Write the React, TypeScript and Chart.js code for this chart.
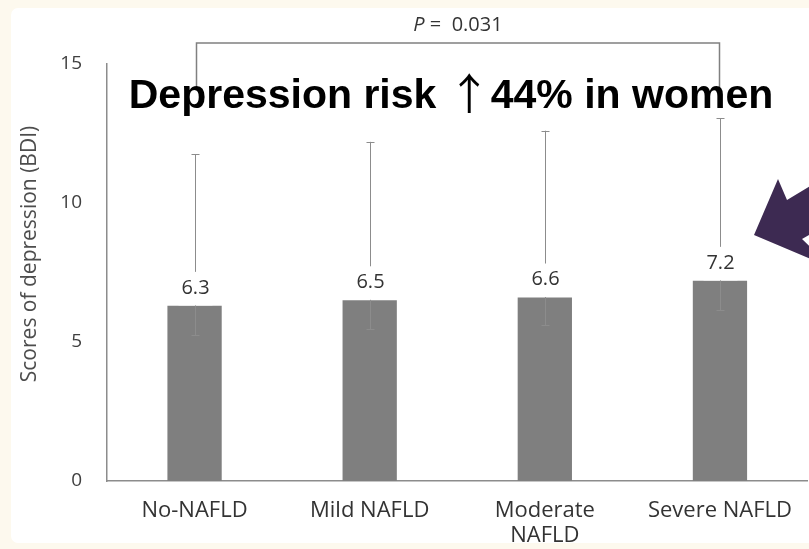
import React, { useEffect, useRef } from "react";
import { Chart, registerables } from "chart.js";

Chart.register(...registerables);

// ---- data ----
const categories: (string | string[])[] = ["No-NAFLD", "Mild NAFLD", ["Moderate", "NAFLD"], "Severe NAFLD"];
const meanScores = [6.3, 6.5, 6.6, 7.2];
const errorLower = [5.25, 5.45, 5.6, 6.15];
const errorUpper = [11.75, 12.2, 12.6, 13.05];
const yTicks = [0, 5, 10, 15];
const yTitle = "Scores of depression (BDI)";
const pLabel = "P";
const pValue = " =  0.031";
const headlineParts = ["Depression risk ", "↑", "44% in women"];

const FONT = '"Open Sans", "Noto Sans", sans-serif';
const BOLD = '"Liberation Sans", Arial, sans-serif';
const ARROW_FONT = '"Noto Sans CJK KR", "Noto Sans CJK SC", sans-serif';

const backgroundPlugin = {
  id: "panelBackground",
  beforeDraw(chart: any) {
    const { ctx, width, height } = chart;
    ctx.save();
    ctx.fillStyle = "#fdf9ee";
    ctx.fillRect(0, 0, width, height);
    ctx.fillStyle = "#ffffff";
    ctx.beginPath();
    (ctx as any).roundRect(11, 8, width + 20, height - 14, 7);
    ctx.fill();
    ctx.restore();
  },
};

const errorBarPlugin = {
  id: "errorBars",
  afterDatasetsDraw(chart: any) {
    const { ctx } = chart;
    const y = chart.scales.y;
    const meta = chart.getDatasetMeta(0);
    meta.data.forEach((bar: any, i: number) => {
      const cx = Math.round(bar.x) + 0.5;
      const top = y.getPixelForValue(meanScores[i]);
      const yl = y.getPixelForValue(errorLower[i]);
      const yu = y.getPixelForValue(errorUpper[i]);
      ctx.save();
      ctx.strokeStyle = "#8c8c8c";
      ctx.lineWidth = 1;
      ctx.beginPath();
      ctx.moveTo(cx, yu);
      ctx.lineTo(cx, yl);
      ctx.moveTo(cx - 4, Math.round(yu) + 0.5);
      ctx.lineTo(cx + 4, Math.round(yu) + 0.5);
      ctx.moveTo(cx - 4, Math.round(yl) + 0.5);
      ctx.lineTo(cx + 4, Math.round(yl) + 0.5);
      ctx.stroke();
      // label box
      ctx.fillStyle = "#ffffff";
      ctx.fillRect(cx - 17, top - 34, 34, 33.5);
      ctx.fillStyle = "#333333";
      ctx.font = `20px ${FONT}`;
      ctx.textAlign = "center";
      ctx.textBaseline = "middle";
      ctx.fillText(meanScores[i].toFixed(1), cx, top - 18);
      ctx.restore();
    });
  },
};

const annotationPlugin = {
  id: "annotations",
  afterDraw(chart: any) {
    const { ctx } = chart;
    const x = chart.scales.x;
    const x1 = Math.round(x.getPixelForValue(0)) + 1.5;
    const x2 = Math.round(x.getPixelForValue(categories.length - 1)) - 0.5;
    const lineY = 43;
    ctx.save();

    // y axis title
    ctx.save();
    ctx.translate(30, 254);
    ctx.rotate(-Math.PI / 2);
    ctx.fillStyle = "#4d4d4d";
    ctx.font = `21px ${FONT}`;
    ctx.textAlign = "center";
    ctx.textBaseline = "middle";
    ctx.fillText(yTitle, 0, 0);
    ctx.restore();

    // bracket
    ctx.strokeStyle = "#808080";
    ctx.lineWidth = 1.5;
    ctx.beginPath();
    ctx.moveTo(x1, 88);
    ctx.lineTo(x1, lineY);
    ctx.lineTo(x2, lineY);
    ctx.lineTo(x2, 88);
    ctx.stroke();

    // P value
    const mid = (x1 + x2) / 2;
    ctx.fillStyle = "#333333";
    ctx.textBaseline = "middle";
    ctx.textAlign = "left";
    ctx.font = `italic 20px ${FONT}`;
    const wP = ctx.measureText(pLabel).width;
    ctx.font = `20px ${FONT}`;
    const wV = ctx.measureText(pValue).width;
    const px = mid - (wP + wV) / 2;
    ctx.font = `italic 20px ${FONT}`;
    ctx.fillText(pLabel, px, 25);
    ctx.font = `20px ${FONT}`;
    ctx.fillText(pValue, px + wP, 25);

    // headline
    ctx.fillStyle = "#000000";
    ctx.textBaseline = "alphabetic";
    const boldFont = `bold 41px ${BOLD}`;
    const arrowFont = `43px ${ARROW_FONT}`;
    ctx.font = boldFont;
    const w1 = ctx.measureText(headlineParts[0]).width;
    const w3 = ctx.measureText(headlineParts[2]).width;
    ctx.font = arrowFont;
    const w2 = ctx.measureText(headlineParts[1]).width;
    const total = w1 + w2 + w3;
    const hx = 451 - total / 2;
    const base = 108;
    ctx.font = boldFont;
    ctx.fillText(headlineParts[0], hx, base);
    ctx.font = arrowFont;
    ctx.fillText(headlineParts[1], hx + w1, base + 2);
    ctx.font = boldFont;
    ctx.fillText(headlineParts[2], hx + w1 + w2, base);

    // purple pointer arrow
    ctx.fillStyle = "#3d2a52";
    ctx.beginPath();
    ctx.moveTo(754, 235);
    ctx.lineTo(778, 179);
    ctx.lineTo(787, 200);
    ctx.lineTo(860, 156);
    ctx.lineTo(880, 195);
    ctx.lineTo(802, 239);
    ctx.lineTo(832, 268);
    ctx.closePath();
    ctx.fill();
    ctx.restore();
  },
};

export default function App() {
  const ref = useRef<HTMLCanvasElement>(null);
  useEffect(() => {
    document.body.style.margin = "0";
    const canvas = ref.current!;
    const chart = new Chart(canvas, {
      type: "bar",
      data: {
        labels: categories as any,
        datasets: [
          {
            data: meanScores,
            backgroundColor: "#7f7f7f",
            borderWidth: 0,
            barPercentage: 0.31,
            categoryPercentage: 1,
          },
        ],
      },
      options: {
        responsive: false,
        animation: false,
        devicePixelRatio: 1,
        layout: { padding: { top: 64, left: 0, right: 0, bottom: 0 } },
        plugins: {
          legend: { display: false },
          tooltip: { enabled: false },
        },
        scales: {
          x: {
            grid: { display: false, drawTicks: false },
            border: { display: true, color: "#8c8c8c", width: 1.5 },
            ticks: {
              color: "#333333",
              font: { family: FONT, size: 22, lineHeight: 1.15 },
              padding: 17,
              maxRotation: 0,
              autoSkip: false,
            },
            afterFit: (s: any) => {
              s.height = 68;
            },
          },
          y: {
            min: 0,
            max: 15,
            afterBuildTicks: (s: any) => {
              s.ticks = yTicks.map((v) => ({ value: v }));
            },
            ticks: { color: "#404040", font: { family: FONT, size: 19 }, padding: 25 },
            grid: { display: false, drawTicks: false },
            border: { display: true, color: "#8c8c8c", width: 1.5 },
            title: { display: false },
            afterFit: (s: any) => {
              s.width = 107;
            },
          },
        },
      },
      plugins: [backgroundPlugin, errorBarPlugin, annotationPlugin],
    });
    return () => chart.destroy();
  }, []);
  return <canvas ref={ref} width={809} height={549} style={{ display: "block" }} />;
}
